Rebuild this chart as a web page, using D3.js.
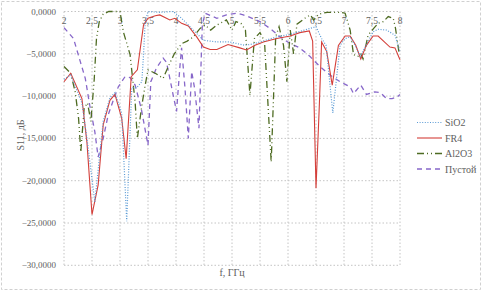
<!DOCTYPE html>
<html>
<head>
<meta charset="utf-8">
<script src="https://cdn.jsdelivr.net/npm/d3@7"></script>
<style>
  body { margin: 0; background: #fff; }
  svg text { font-family: "Liberation Serif", "DejaVu Serif", serif; fill: #606060; }
</style>
</head>
<body>
<svg id="chart" width="482" height="291"></svg>
<script>
// x tick labels (GHz) and y ticks (dB)
let xTicks = [2, 2.5, 3, 3.5, 4, 4.5, 5, 5.5, 6, 6.5, 7, 7.5, 8];
let yTicks = [0, -5, -10, -15, -20, -25, -30];

// SiO2
let sio2F = [2.0, 2.12, 2.32, 2.41, 2.55, 2.7, 2.82, 2.91, 3.03, 3.12, 3.21, 3.3, 3.39, 3.42, 3.45, 3.5, 3.7, 3.95, 4.1, 4.28, 4.49, 4.73, 4.96, 5.23, 5.4, 5.8, 6.04, 6.34, 6.5, 6.6, 6.68, 6.8, 6.93, 7.02, 7.11, 7.2, 7.29, 7.41, 7.52, 7.61, 7.76, 7.91, 8.0];
let sio2V = [-8.0, -7.5, -10.8, -15.0, -22.5, -13.0, -10.2, -9.6, -12.0, -24.8, -9.0, -9.0, -8.3, -5.1, -1.2, 0.0, -0.1, 0.0, -0.8, -2.0, -3.4, -3.6, -3.6, -4.0, -3.8, -3.0, -2.7, -2.1, -1.8, -3.2, -4.0, -12.0, -4.0, -3.2, -3.0, -4.0, -5.3, -3.8, -2.4, -2.1, -2.2, -2.8, -4.75];

// FR4
let fr4F = [2.0, 2.12, 2.32, 2.41, 2.5, 2.61, 2.7, 2.82, 2.91, 3.03, 3.11, 3.2, 3.31, 3.42, 3.5, 3.63, 3.71, 3.89, 3.98, 4.1, 4.22, 4.37, 4.49, 4.61, 4.73, 4.93, 5.14, 5.26, 5.41, 5.56, 5.8, 6.04, 6.21, 6.38, 6.44, 6.5, 6.56, 6.6, 6.69, 6.79, 6.9, 7.02, 7.11, 7.21, 7.3, 7.4, 7.52, 7.61, 7.82, 7.91, 8.0];
let fr4V = [-8.3, -7.3, -10.3, -15.5, -24.0, -20.5, -13.4, -10.5, -9.8, -12.6, -17.4, -7.7, -6.9, -1.6, -0.8, -0.5, -0.4, -1.0, -0.8, -1.4, -1.7, -3.0, -4.2, -4.5, -4.5, -3.9, -4.3, -4.55, -4.0, -3.6, -3.2, -2.9, -2.5, -2.3, -3.5, -20.9, -11.0, -3.6, -4.7, -8.7, -4.0, -2.9, -2.9, -4.0, -5.6, -4.0, -2.9, -2.9, -4.2, -4.3, -5.7];

// Al2O3
let al2o3F = [2.0, 2.12, 2.2, 2.26, 2.3, 2.36, 2.42, 2.48, 2.54, 2.58, 2.63, 2.7, 2.8, 3.0, 3.06, 3.18, 3.27, 3.31, 3.39, 3.45, 3.5, 3.63, 3.77, 3.89, 3.97, 4.1, 4.2, 4.31, 4.43, 4.52, 4.62, 4.73, 4.9, 5.0, 5.07, 5.16, 5.24, 5.32, 5.4, 5.5, 5.58, 5.7, 5.78, 5.84, 5.92, 5.98, 6.04, 6.1, 6.16, 6.3, 6.4, 6.46, 6.55, 6.7, 6.95, 7.02, 7.11, 7.17, 7.25, 7.3, 7.34, 7.43, 7.53, 7.61, 7.7, 7.79, 7.88, 7.92, 7.98, 8.0];
let al2o3V = [-6.5, -7.3, -9.5, -12.6, -16.6, -11.4, -10.8, -13.0, -8.0, -3.2, -1.2, -0.3, 0.0, 0.0, -2.4, -5.1, -10.7, -15.0, -11.1, -8.7, -6.9, -7.3, -7.9, -6.1, -5.0, -3.8, -3.5, -3.0, -2.0, -1.6, -2.2, -1.6, -1.0, -2.2, -1.2, -1.4, -2.2, -9.9, -3.2, -2.5, -3.5, -17.8, -3.0, -1.8, -4.0, -8.3, -2.2, -5.0, -1.5, -0.8, -0.4, -1.0, -0.3, -0.1, -0.1, -0.2, -2.2, -5.1, -5.3, -5.0, -5.6, -2.8, -2.0, -1.4, -1.2, -0.6, -0.8, -2.0, -4.75, -5.0];

// Пустой
let emptyF = [2.0, 2.17, 2.29, 2.38, 2.46, 2.55, 2.61, 2.7, 2.79, 2.88, 2.97, 3.09, 3.18, 3.27, 3.38, 3.5, 3.55, 3.65, 3.77, 3.83, 3.89, 3.95, 4.01, 4.07, 4.1, 4.16, 4.22, 4.28, 4.33, 4.41, 4.47, 4.52, 4.73, 4.9, 5.08, 5.2, 5.29, 5.5, 5.68, 5.86, 6.04, 6.21, 6.39, 6.57, 6.75, 6.93, 7.11, 7.17, 7.3, 7.4, 7.55, 7.65, 7.76, 7.86, 7.95, 8.0];
let emptyV = [-1.9, -3.2, -5.9, -7.9, -11.1, -14.2, -17.2, -15.0, -12.2, -10.5, -8.9, -7.7, -7.8, -8.7, -11.5, -15.8, -8.3, -6.7, -5.5, -6.0, -7.9, -9.9, -11.8, -6.5, -4.3, -9.0, -15.0, -7.1, -9.0, -13.8, -1.6, -0.2, -0.8, -0.4, -0.2, -0.4, -0.6, -1.2, -2.0, -3.0, -3.8, -4.3, -5.3, -6.5, -7.5, -8.3, -8.9, -9.7, -8.7, -9.8, -9.5, -9.6, -10.3, -10.3, -10.1, -9.8];

let seriesNames = ['SiO2', 'FR4', 'Al2O3', 'Пустой'];

const svg = d3.select('#chart');

// chart border
svg.append('rect')
    .attr('x', 1.5).attr('y', 1.5)
    .attr('width', 479).attr('height', 288)
    .attr('fill', 'none')
    .attr('stroke', '#d0d0d0')
    .attr('stroke-dasharray', '3,2');

const x = d3.scaleLinear().domain([2, 8]).range([64, 400]);
const y = d3.scaleLinear().domain([-30, 0]).range([265.3, 11.5]);

// gridlines
svg.append('g')
    .selectAll('line')
    .data(yTicks)
    .enter()
    .append('line')
    .attr('x1', x(2)).attr('x2', x(8))
    .attr('y1', d => y(d)).attr('y2', d => y(d))
    .attr('stroke', '#c4c4c4')
    .attr('stroke-dasharray', '1.5,2');

svg.append('g')
    .selectAll('line')
    .data(xTicks)
    .enter()
    .append('line')
    .attr('x1', d => x(d)).attr('x2', d => x(d))
    .attr('y1', y(0)).attr('y2', y(-30))
    .attr('stroke', '#c4c4c4')
    .attr('stroke-dasharray', '1.5,2');

// y labels
svg.append('g')
    .selectAll('text')
    .data(yTicks)
    .enter()
    .append('text')
    .attr('x', 56)
    .attr('y', d => y(d) + 3)
    .attr('text-anchor', 'end')
    .style('font-size', '9px')
    .text(d => d3.format('.4f')(d).replace('.', ','));

// x labels (sit just under the 0 line)
svg.append('g')
    .selectAll('text')
    .data(xTicks)
    .enter()
    .append('text')
    .attr('x', d => x(d))
    .attr('y', 24)
    .attr('text-anchor', 'middle')
    .style('font-size', '9.5px')
    .text(d => String(d).replace('.', ','));

// axis titles
svg.append('text')
    .attr('transform', 'translate(24,135) rotate(-90)')
    .attr('text-anchor', 'middle')
    .style('font-size', '10px')
    .text('S11, дБ');

svg.append('text')
    .attr('x', 232).attr('y', 276)
    .attr('text-anchor', 'middle')
    .style('font-size', '10px')
    .text('f, ГГц');

// series
let series = [
    { name: seriesNames[0], f: sio2F, v: sio2V, color: '#5b9bd5', dash: '1,1.6', width: 1.2 },
    { name: seriesNames[1], f: fr4F, v: fr4V, color: '#d43f3a', dash: null, width: 1.1 },
    { name: seriesNames[2], f: al2o3F, v: al2o3V, color: '#4e6b22', dash: '7,3,1,3,1,3', width: 1.3 },
    { name: seriesNames[3], f: emptyF, v: emptyV, color: '#8767c9', dash: '5,4', width: 1.3 }
];

const line = d3.line()
    .x(d => x(d[0]))
    .y(d => y(d[1]));

// draw back to front like the picture: empty, Al2O3, SiO2, FR4
[3, 2, 1, 0].forEach(i => {
    let s = series[i];
    svg.append('path')
        .datum(d3.zip(s.f, s.v))
        .attr('d', line)
        .attr('fill', 'none')
        .attr('stroke', s.color)
        .attr('stroke-width', s.width)
        .attr('stroke-dasharray', s.dash);
});

// legend
let legendY = [122.5, 138, 153.5, 169];
const legend = svg.append('g');
series.forEach((s, i) => {
    legend.append('line')
        .attr('x1', 417).attr('x2', 442)
        .attr('y1', legendY[i]).attr('y2', legendY[i])
        .attr('stroke', s.color)
        .attr('stroke-width', s.width)
        .attr('stroke-dasharray', s.dash);
    legend.append('text')
        .attr('x', 445)
        .attr('y', legendY[i] + 3.5)
        .style('font-size', '10px')
        .text(s.name);
});
</script>
</body>
</html>
